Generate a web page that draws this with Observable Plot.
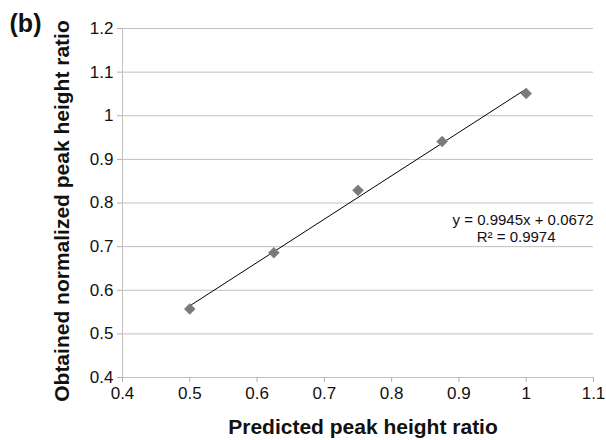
<!DOCTYPE html>
<html>
<head>
<meta charset="utf-8">
<script src="https://cdn.jsdelivr.net/npm/d3@7"></script>
<script src="https://cdn.jsdelivr.net/npm/@observablehq/plot@0.6"></script>
<style>
  html, body { margin: 0; padding: 0; background: #fff; }
</style>
</head>
<body>
<div id="chart"></div>
<script>
const predicted = [0.5, 0.625, 0.75, 0.875, 1.0];
const obtained = [0.557, 0.686, 0.829, 0.941, 1.051];
const xTicks = [0.4, 0.5, 0.6, 0.7, 0.8, 0.9, 1, 1.1];
const yTicks = [0.4, 0.5, 0.6, 0.7, 0.8, 0.9, 1, 1.1, 1.2];
const equationText = "y = 0.9945x + 0.0672";
const r2Text = "R² = 0.9974";
const panelLabel = "(b)";
const xTitle = "Predicted peak height ratio";
const yTitle = "Obtained normalized peak height ratio";

const points = predicted.map((x, i) => ({x, y: obtained[i]}));

const chart = Plot.plot({
  width: 606,
  height: 440,
  marginLeft: 122,
  marginRight: 13,
  marginTop: 28,
  marginBottom: 63,
  style: {fontFamily: "'Liberation Sans', Arial, sans-serif", fontSize: "17px", color: "#111", background: "#fff", overflow: "visible"},
  x: {domain: [0.4, 1.1]},
  y: {domain: [0.4, 1.2]},
  marks: [
    Plot.gridY(yTicks, {stroke: "#c0c0c0", strokeOpacity: 1}),
    Plot.ruleX([0.4], {stroke: "#c0c0c0"}),
    Plot.axisY(yTicks, {tickSize: 5, tickPadding: 4, stroke: "#b0b0b0", tickFormat: d => String(d), label: null, fontSize: 17}),
    Plot.axisX(xTicks, {tickSize: 5, tickPadding: 4, stroke: "#b0b0b0", tickFormat: d => String(d), label: null, fontSize: 17}),
    Plot.linearRegressionY(points, {x: "x", y: "y", ci: 0, stroke: "#000", strokeWidth: 1}),
    Plot.dot(points, {x: "x", y: "y", symbol: "diamond2", r: 5, fill: "#7a7a7a", stroke: "#8a8a8a", strokeWidth: 0.5}),
    Plot.text([equationText], {x: 1.1, y: 0.761, text: d => d, textAnchor: "end", fontSize: 15, fill: "#111"}),
    Plot.text([r2Text], {x: 0.985, y: 0.721, text: d => d, textAnchor: "middle", fontSize: 15, fill: "#111"}),
    Plot.text([xTitle], {frameAnchor: "bottom", dx: 5, dy: 50, text: d => d, textAnchor: "middle", lineAnchor: "middle", fontSize: 21, fontWeight: "bold", fill: "#111"}),
    Plot.text([yTitle], {frameAnchor: "left", dx: -60, dy: 8, rotate: -90, text: d => d, textAnchor: "middle", lineAnchor: "middle", fontSize: 21, fontWeight: "bold", fill: "#111"}),
    Plot.text([panelLabel], {frameAnchor: "top-left", dx: -97, dy: -5, text: d => d, textAnchor: "middle", lineAnchor: "middle", fontSize: 25, fontWeight: "bold", fill: "#111"})
  ]
});
document.getElementById("chart").appendChild(chart);
</script>
</body>
</html>
